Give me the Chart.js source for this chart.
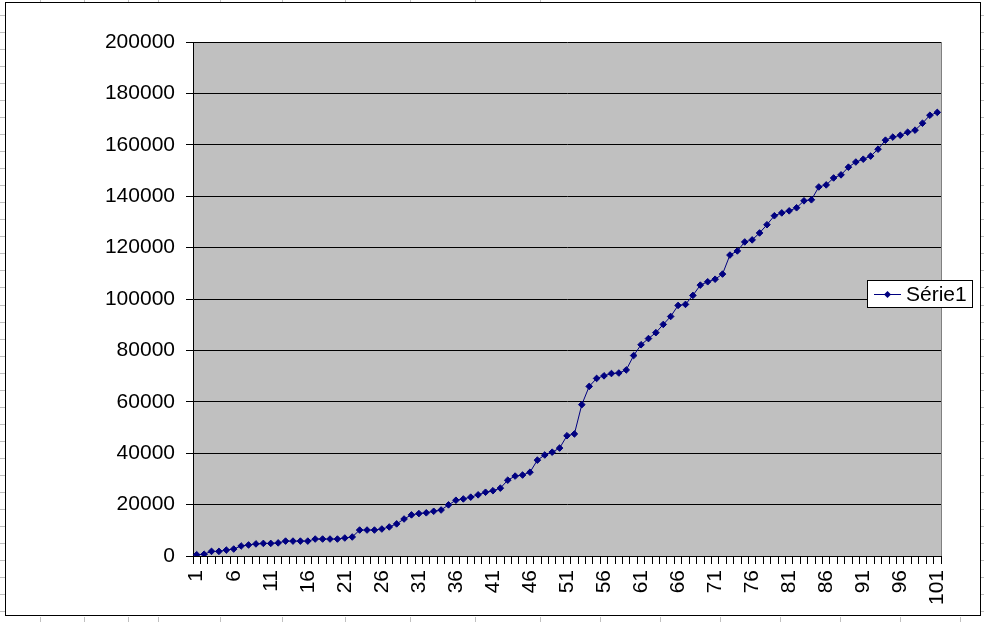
<!DOCTYPE html>
<html>
<head>
<meta charset="utf-8">
<script src="https://cdn.jsdelivr.net/npm/chart.js@4/dist/chart.umd.min.js"></script>
<style>
  body { margin: 0; background: #fff; }
  canvas { display: block; }
</style>
</head>
<body>
<canvas id="chart" width="984" height="622"></canvas>
<script>
// Categories 1..101
const categories = Array.from({ length: 101 }, (_, i) => String(i + 1));

// Série1 values
const serie1 = [
    500, 700, 1800, 1800, 2300, 2700, 3900, 4300, 4700, 4900,
    4900, 5100, 5800, 5800, 5800, 5800, 6600, 6600, 6600, 6600,
    7000, 7400, 10100, 10100, 10100, 10500, 11300, 12500, 14400, 16000,
    16500, 16800, 17400, 17900, 19900, 21700, 22200, 22900, 23800, 24800,
    25400, 26400, 29500, 31100, 31500, 32600, 37300, 39300, 40400, 42000,
    46800, 47500, 58900, 66000, 69100, 70100, 71000, 71200, 72400, 78000,
    82200, 84600, 86900, 90100, 93200, 97500, 97900, 101400, 105400, 106700,
    107700, 109700, 117100, 118700, 122200, 123000, 125700, 128900, 132400, 133500,
    134300, 135500, 138200, 138600, 143600, 144400, 147100, 148300, 151300, 153300,
    154400, 155600, 158300, 161800, 163000, 163700, 164900, 165700, 168400, 171500,
    172600
];

// Y axis ticks
const yMin = 0;
const yMax = 200000;
const yStep = 20000;

const FONT = 'Liberation Sans, Arial, sans-serif';
const NAVY = '#000080';

// Frame, sheet lines and grey plot area
const backgroundPlugin = {
    id: 'background',
    beforeDraw(chart) {
        const ctx = chart.ctx;
        const a = chart.chartArea;
        ctx.save();
        ctx.fillStyle = '#fff';
        ctx.fillRect(0, 0, chart.width, chart.height);

        // spreadsheet cells peeking out around the chart object
        ctx.strokeStyle = '#c0c0c0';
        ctx.lineWidth = 1;
        ctx.beginPath();
        for (let y = 15; y < chart.height; y += 17.03) {
            const yy = Math.round(y) + 0.5;
            ctx.moveTo(0, yy); ctx.lineTo(5, yy);
            ctx.moveTo(981, yy); ctx.lineTo(984, yy);
        }
        [40, 84, 128, 158, 220, 282, 345, 410, 475, 540].forEach(x => {
            ctx.moveTo(x + 0.5, 0); ctx.lineTo(x + 0.5, 2);
        });
        [40, 84, 128, 158, 220, 282, 345, 410, 475, 540, 600, 660, 720, 780, 840, 900, 960].forEach(x => {
            ctx.moveTo(x + 0.5, 617); ctx.lineTo(x + 0.5, 622);
        });
        ctx.stroke();

        ctx.strokeStyle = '#000';
        ctx.strokeRect(5.5, 2.5, 975, 613);

        ctx.fillStyle = '#c0c0c0';
        ctx.fillRect(a.left, a.top, a.right - a.left, a.bottom - a.top);
        ctx.restore();
    },
    afterDraw(chart) {
        const ctx = chart.ctx;
        const a = chart.chartArea;
        ctx.save();
        // plot area right edge
        ctx.strokeStyle = '#808080';
        ctx.lineWidth = 1;
        ctx.beginPath();
        ctx.moveTo(Math.round(a.right) + 0.5, a.top);
        ctx.lineTo(Math.round(a.right) + 0.5, a.bottom);
        ctx.stroke();

        // legend box
        ctx.fillStyle = '#fff';
        ctx.fillRect(867.5, 280.5, 105, 27);
        ctx.strokeStyle = '#000';
        ctx.strokeRect(867.5, 280.5, 105, 27);

        ctx.strokeStyle = NAVY;
        ctx.beginPath();
        ctx.moveTo(874, 294.5);
        ctx.lineTo(901, 294.5);
        ctx.stroke();
        ctx.fillStyle = NAVY;
        ctx.beginPath();
        ctx.moveTo(887.5, 291);
        ctx.lineTo(891, 294.5);
        ctx.lineTo(887.5, 298);
        ctx.lineTo(884, 294.5);
        ctx.closePath();
        ctx.fill();

        ctx.fillStyle = '#000';
        ctx.font = '21px ' + FONT;
        ctx.textBaseline = 'middle';
        ctx.textAlign = 'left';
        ctx.fillText(chart.data.datasets[0].label, 906, 295);
        ctx.restore();
    }
};

const ctx = document.getElementById('chart').getContext('2d');
const chart = new Chart(ctx, {
    type: 'line',
    data: {
        labels: categories,
        datasets: [
            {
                label: 'Série1',
                data: serie1,
                borderColor: NAVY,
                backgroundColor: NAVY,
                borderWidth: 1,
                pointStyle: 'rectRot',
                pointRadius: 3.3,
                pointBorderWidth: 1,
                pointBorderColor: NAVY,
                pointBackgroundColor: NAVY,
                tension: 0,
            },
        ],
    },
    options: {
        responsive: false,
        animation: false,
        layout: {
            padding: { left: 0, top: 42, right: 43, bottom: 0 },
        },
        plugins: {
            legend: { display: false },
            tooltip: { enabled: false },
        },
        scales: {
            x: {
                offset: true,
                grid: {
                    offset: true,
                    drawOnChartArea: false,
                    drawTicks: true,
                    tickLength: 8,
                    color: '#000',
                },
                border: { display: true, color: '#000' },
                ticks: {
                    autoSkip: false,
                    maxRotation: 90,
                    minRotation: 90,
                    padding: 6,
                    color: '#000',
                    font: { family: FONT, size: 21 },
                    callback: (v, i) => (i % 5 === 0 ? categories[i] : ''),
                },
                afterFit: (s) => { s.height = 66; },
            },
            y: {
                min: yMin,
                max: yMax,
                grid: {
                    color: '#000',
                    drawTicks: true,
                    tickLength: 7,
                },
                border: { display: true, color: '#000' },
                ticks: {
                    stepSize: yStep,
                    padding: 11,
                    color: '#000',
                    font: { family: FONT, size: 21 },
                    callback: (v) => String(v),
                },
                afterFit: (s) => { s.width = 193; },
            },
        },
    },
    plugins: [backgroundPlugin],
});
</script>
</body>
</html>
